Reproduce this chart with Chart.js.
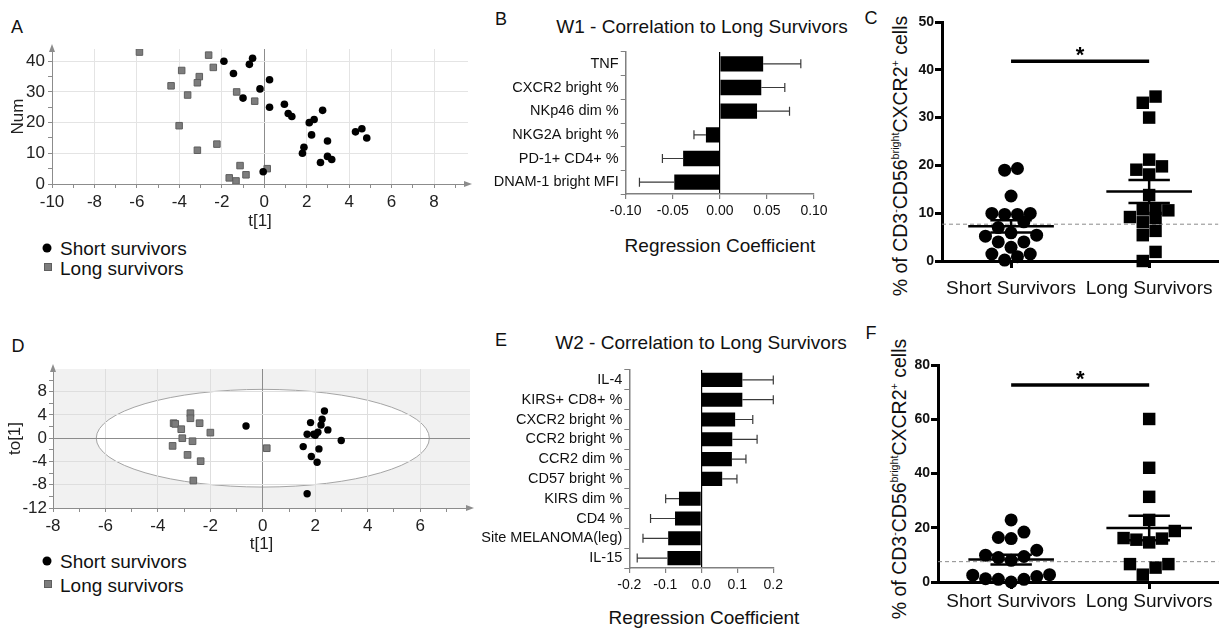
<!DOCTYPE html>
<html><head><meta charset="utf-8">
<script src="https://cdn.jsdelivr.net/npm/chart.js@4.4.1/dist/chart.umd.min.js"></script>
<style>
html,body{margin:0;padding:0;background:#fff;}
#root{position:relative;width:1227px;height:628px;overflow:hidden;font-family:'Liberation Sans',Arial,Helvetica,sans-serif;color:#111;}
canvas{position:absolute;}
.t{position:absolute;white-space:nowrap;line-height:1;transform:translate(-50%,-50%);}
.l{position:absolute;white-space:nowrap;line-height:1;transform:translateY(-50%);font-size:19px;}
.dot{position:absolute;width:9px;height:9px;border-radius:50%;background:#000;transform:translate(-50%,-50%);}
.sq{position:absolute;width:6px;height:6px;background:#7d7d7d;border:1px solid #5e5e5e;transform:translate(-50%,-50%);}
.yt{position:absolute;white-space:nowrap;line-height:1;font-size:19.5px;transform:translate(-50%,-50%) rotate(-90deg);}
.yt sup{font-size:0.55em;vertical-align:0.75em;line-height:0;}
</style></head>
<body><div id="root">
<div class="t" style="left:17px;top:27px;font-size:18px">A</div>
<div class="t" style="left:501px;top:19px;font-size:18px">B</div>
<div class="t" style="left:871px;top:18px;font-size:18px">C</div>
<div class="t" style="left:18px;top:346px;font-size:18px">D</div>
<div class="t" style="left:501px;top:340px;font-size:18px">E</div>
<div class="t" style="left:871px;top:333px;font-size:18px">F</div>
<div class="t" id="bTitle" style="left:702px;top:26px;font-size:19px"></div>
<div class="t" id="eTitle" style="left:701px;top:342px;font-size:19px"></div>
<div class="t" id="bXTitle" style="left:720px;top:245px;font-size:19px"></div>
<div class="t" id="eXTitle" style="left:704px;top:617px;font-size:19px"></div>
<div class="yt" id="cYTitle" style="left:901px;top:156px"></div>
<div class="yt" id="fYTitle" style="left:900px;top:479px"></div>
<div class="dot" style="left:47px;top:247.5px"></div><div class="l" id="legA1" style="left:60px;top:248px"></div>
<div class="sq" style="left:47.5px;top:267px"></div><div class="l" id="legA2" style="left:60px;top:268px"></div>
<div class="dot" style="left:47px;top:561px"></div><div class="l" id="legD1" style="left:60px;top:561px"></div>
<div class="sq" style="left:47.5px;top:584px"></div><div class="l" id="legD2" style="left:60px;top:585px"></div>
</div>
<script>
// ================= DATA =================
// Panel A : scores t[1] vs observation number
const aShortT   = [-1.9,-0.55,-0.7,-1.45,0.25,-0.2,-1.0,0.25,0.95,1.13,1.3,2.75,2.12,2.35,2.23,1.87,1.8,2.98,4.3,4.6,4.83,2.65,2.98,3.18,-0.05];
const aShortNum = [40,41,39,36,34,31,28,25,26,23,22,24,20,21,16,12,10,14,17,18,15,7,9,8,4];
const aLongT    = [-5.88,-2.62,-3.89,-2.4,-3.06,-3.15,-4.39,-3.61,-1.3,-0.45,-4.01,-3.15,-2.23,-1.14,-0.86,-1.65,-1.33,0.14];
const aLongNum  = [43,42,37,38,35,33,32,29,30,27,19,11,13,6,3,2,1,5];
// Panel D : scores t[1] vs to[1]
const dShortT  = [-0.64,2.35,1.82,2.26,2.22,2.48,1.69,1.94,2.10,2.00,2.99,1.54,2.14,1.85,2.07,1.69];
const dShortTo = [2.1,4.69,2.68,3.26,2.28,1.43,0.68,0.68,1.03,0.51,-0.4,-1.44,-1.84,-3.15,-4.13,-9.56];
const dLongT   = [-2.76,-2.76,-3.40,-3.34,-2.41,-3.11,-2.00,-3.07,-2.68,-3.44,-2.87,-2.37,-2.65,0.15];
const dLongTo  = [4.3,3.43,2.58,2.46,2.58,1.55,0.96,0.0,-0.52,-1.32,-2.87,-3.95,-7.28,-1.72];
const dEllipseT = 6.35, dEllipseTo = 8.4;
const legendLabels = ['Short survivors','Long survivors'];
// Panel B
const bTitle  = 'W1 - Correlation to Long Survivors';
const bLabels = ['TNF','CXCR2 bright %','NKp46 dim %','NKG2A bright %','PD-1+ CD4+ %','DNAM-1 bright MFI'];
const bCoef   = [0.046,0.044,0.0395,-0.0148,-0.039,-0.0484];
const bErr    = [0.040,0.025,0.0345,0.0127,0.022,0.037];
// Panel E
const eTitle  = 'W2 - Correlation to Long Survivors';
const eLabels = ['IL-4','KIRS+ CD8+ %','CXCR2 bright %','CCR2 bright %','CCR2 dim %','CD57 bright %','KIRS dim %','CD4 %','Site MELANOMA(leg)','IL-15'];
const eCoef   = [0.114,0.114,0.094,0.086,0.085,0.058,-0.062,-0.073,-0.092,-0.094];
const eErr    = [0.086,0.086,0.049,0.069,0.039,0.041,0.037,0.068,0.070,0.084];
const coefTitle = 'Regression Coefficient';
// Panels C and F
const groupLabels = ['Short Survivors','Long Survivors'];
const cShort = [19.35,19.0,13.6,9.96,9.75,9.75,9.96,8.2,7.0,5.9,5.2,5.4,4.0,4.0,2.86,1.46,1.46,0.9,0.2];
const cLong  = [34.4,33.1,30.0,21.2,19.8,19.1,18.1,13.8,10.9,10.6,10.8,9.0,9.2,8.1,6.3,5.4,1.9,0.0];
const cThreshold = 7.7, cSigLevel = 41.8;
const fShort = [22.9,18.4,16.0,16.4,11.7,9.9,9.0,8.0,9.4,2.7,2.0,1.0,0.0,1.0,1.2,2.5];
const fLong  = [60.1,42.1,31.4,22.9,16.2,15.6,14.6,16.0,18.8,6.6,5.3,6.6,2.7];
const fThreshold = 7.5, fSigLevel = 72.6;
const sigMark = '*';

// ================= SETUP =================
const FONT = "'Liberation Sans', Arial, Helvetica, sans-serif";
Chart.defaults.font.family = FONT;
Chart.defaults.color = '#111';
Chart.defaults.animation = false;
Chart.defaults.responsive = false;
Chart.defaults.devicePixelRatio = 1;
Chart.defaults.plugins.legend.display = false;
Chart.defaults.plugins.tooltip.enabled = false;

document.getElementById('bTitle').textContent = bTitle;
document.getElementById('eTitle').textContent = eTitle;
document.getElementById('bXTitle').textContent = coefTitle;
document.getElementById('eXTitle').textContent = coefTitle;
const yTitleHTML = '% of CD3<sup>-</sup>CD56<sup>bright</sup>CXCR2<sup>+</sup> cells';
document.getElementById('cYTitle').innerHTML = yTitleHTML;
document.getElementById('fYTitle').innerHTML = yTitleHTML;
document.getElementById('legA1').textContent = legendLabels[0];
document.getElementById('legA2').textContent = legendLabels[1];
document.getElementById('legD1').textContent = legendLabels[0];
document.getElementById('legD2').textContent = legendLabels[1];

const root = document.getElementById('root');
function mk(left, top, w, h){
  const c = document.createElement('canvas');
  c.width = w; c.height = h;
  c.style.left = left+'px'; c.style.top = top+'px';
  c.style.width = w+'px'; c.style.height = h+'px';
  root.appendChild(c); return c;
}
const fixW = w => s => { s.width = w; s.paddingTop = 0; s.paddingBottom = 0; s.paddingLeft = 0; s.paddingRight = 0; };
const fixH = h => s => { s.height = h; s.paddingTop = 0; s.paddingBottom = 0; s.paddingLeft = 0; s.paddingRight = 0; };
const zip = (xs, ys) => xs.map((x,i) => ({x, y: ys[i]}));
const NONE = 'rgba(0,0,0,0)';
const AX = '#8c8c8c';

const arrowPlugin = { id:'arrows', afterDraw(chart){
  const {ctx, chartArea:a} = chart; ctx.save(); ctx.fillStyle = AX;
  ctx.beginPath(); ctx.moveTo(a.right+4, a.bottom); ctx.lineTo(a.right-4, a.bottom-3); ctx.lineTo(a.right-4, a.bottom+3); ctx.closePath(); ctx.fill();
  ctx.beginPath(); ctx.moveTo(a.left, a.top-5); ctx.lineTo(a.left-3, a.top+3); ctx.lineTo(a.left+3, a.top+3); ctx.closePath(); ctx.fill();
  ctx.restore(); } };

// ================= PANEL A =================
new Chart(mk(0, 40, 480, 192), {
  type:'scatter',
  data:{ datasets:[
    {data: zip(aShortT, aShortNum), pointStyle:'circle', radius:3.8, backgroundColor:'#000', borderColor:'#000', borderWidth:0},
    {data: zip(aLongT, aLongNum), pointStyle:'rect', radius:4.6, backgroundColor:'#7d7d7d', borderColor:'#5e5e5e', borderWidth:1}
  ]},
  options:{
    layout:{padding:{top:9, right:12, left:0, bottom:0}},
    scales:{
      x:{type:'linear', min:-10, max:9.6, afterFit: fixH(48),
        ticks:{stepSize:1, includeBounds:false, autoSkip:false, maxRotation:0, padding:4, font:{size:17}, color:'#222',
          callback: v => (Math.round(v) % 2 === 0 ? String(Math.round(v)) : '')},
        grid:{color: c => (c.tick && c.tick.value === 0) ? '#8c8c8c' : ((c.tick && Math.round(c.tick.value) % 2 === 0) ? '#e4e4e4' : NONE), tickColor:AX, tickLength:4},
        border:{color:AX},
        title:{display:true, text:'t[1]', font:{size:17}, padding:0, color:'#222'}},
      y:{min:0, max:44, afterFit: fixW(52),
        ticks:{stepSize:5, includeBounds:false, autoSkip:false, padding:3, font:{size:17}, color:'#222',
          callback: v => (v % 10 === 0 ? String(v) : '')},
        grid:{color: c => (c.tick && c.tick.value % 10 === 0 && c.tick.value > 0) ? '#e4e4e4' : NONE, tickColor:AX, tickLength:4},
        border:{color:AX},
        title:{display:true, text:'Num', font:{size:17}, padding:{top:8, bottom:0}, color:'#222'}}
    }
  },
  plugins:[arrowPlugin]
});

// ================= PANEL D =================
const ellipsePlugin = { id:'ellipse', beforeDraw(chart){
  const {ctx, chartArea:a, scales:{x, y}} = chart;
  ctx.save();
  ctx.fillStyle = '#f1f1f1'; ctx.fillRect(a.left, a.top, a.right-a.left, a.bottom-a.top);
  const cx = x.getPixelForValue(0), cy = y.getPixelForValue(0);
  const rx = x.getPixelForValue(dEllipseT) - cx, ry = cy - y.getPixelForValue(dEllipseTo);
  ctx.beginPath(); ctx.ellipse(cx, cy, rx, ry, 0, 0, Math.PI*2);
  ctx.fillStyle = '#fff'; ctx.fill(); ctx.strokeStyle = '#a5a5a5'; ctx.lineWidth = 1; ctx.stroke();
  ctx.restore(); } };
new Chart(mk(0, 355, 480, 200), {
  type:'scatter',
  data:{ datasets:[
    {data: zip(dShortT, dShortTo), pointStyle:'circle', radius:3.7, backgroundColor:'#000', borderColor:'#000', borderWidth:0},
    {data: zip(dLongT, dLongTo), pointStyle:'rect', radius:4.7, backgroundColor:'#7d7d7d', borderColor:'#5e5e5e', borderWidth:1}
  ]},
  options:{
    layout:{padding:{top:14, right:10, left:0, bottom:0}},
    scales:{
      x:{type:'linear', min:-8, max:7.9, afterFit: fixH(47),
        ticks:{stepSize:1, includeBounds:false, autoSkip:false, maxRotation:0, padding:4, font:{size:17}, color:'#222',
          callback: v => (Math.round(v) % 2 === 0 ? String(Math.round(v)) : '')},
        grid:{color: c => (c.tick && c.tick.value === 0) ? '#8c8c8c' : ((c.tick && Math.round(c.tick.value) % 2 === 0) ? '#dedede' : NONE), tickColor:AX, tickLength:4},
        border:{color:AX},
        title:{display:true, text:'t[1]', font:{size:17}, padding:0, color:'#222'}},
      y:{min:-12, max:11.9, afterFit: fixW(53),
        ticks:{stepSize:2, includeBounds:false, autoSkip:false, padding:2, font:{size:17}, color:'#222',
          callback: v => (Math.round(v) % 4 === 0 ? String(Math.round(v)) : '')},
        grid:{color: c => (c.tick && c.tick.value === 0) ? '#8c8c8c' : ((c.tick && Math.round(c.tick.value) % 4 === 0) ? '#dedede' : NONE), tickColor:AX, tickLength:4},
        border:{color:AX},
        title:{display:true, text:'to[1]', font:{size:17}, padding:{top:5, bottom:0}, color:'#222'}}
    }
  },
  plugins:[ellipsePlugin, arrowPlugin]
});

// ================= PANELS B & E =================
function errPlugin(errs){
  return { id:'errbars', afterDatasetsDraw(chart){
    const {ctx, scales:{x}} = chart; const meta = chart.getDatasetMeta(0); const vals = chart.data.datasets[0].data;
    ctx.save(); ctx.strokeStyle = '#3a3a3a'; ctx.lineWidth = 1.2;
    meta.data.forEach((bar, i) => {
      const v = vals[i]; const e = v >= 0 ? v + errs[i] : v - errs[i];
      const x0 = x.getPixelForValue(v), x1 = x.getPixelForValue(e);
      ctx.beginPath(); ctx.moveTo(x0, bar.y); ctx.lineTo(x1, bar.y);
      ctx.moveTo(x1, bar.y-4.5); ctx.lineTo(x1, bar.y+4.5); ctx.stroke();
    });
    ctx.restore(); } };
}
function coefChart(canvas, labels, coef, errs, lim, step, dec, pad, yW, xH, barPct){
  return new Chart(canvas, {
    type:'bar',
    data:{labels, datasets:[{data:coef, backgroundColor:'#000', borderWidth:0, barPercentage:barPct, categoryPercentage:1}]},
    options:{
      indexAxis:'y',
      layout:{padding:pad},
      scales:{
        x:{type:'linear', min:-lim, max:lim, afterFit: fixH(xH),
          ticks:{stepSize:step, padding:4, font:{size:14}, color:'#111', maxRotation:0, callback: v => Number(v).toFixed(dec)},
          grid:{color: c => (c.tick && Math.abs(c.tick.value) < 1e-9) ? '#000' : NONE, tickColor:'#808080', tickLength:5, lineWidth:1.2},
          border:{color:'#808080', width:1.5}},
        y:{afterFit: fixW(yW),
          ticks:{autoSkip:false, padding:2, font:{size:14.5}, color:'#111'},
          grid:{drawOnChartArea:false, tickColor:'#808080', tickLength:5},
          border:{color:'#808080', width:1.5}}
      }
    },
    plugins:[errPlugin(errs)]
  });
}
coefChart(mk(470, 5, 360, 251), bLabels, bCoef, bErr, 0.1, 0.05, 2, {top:47, right:16, left:0, bottom:0}, 155.7, 62, 0.65);
coefChart(mk(470, 360, 320, 268), eLabels, eCoef, eErr, 0.2, 0.1, 1, {top:10, right:16.7, left:0, bottom:0}, 159.3, 60, 0.71);

// ================= PANELS C & F =================
const mean = a => a.reduce((s,v)=>s+v,0)/a.length;
const sem = a => { const m = mean(a); return Math.sqrt(a.reduce((s,v)=>s+(v-m)*(v-m),0)/(a.length-1))/Math.sqrt(a.length); };
function dotPlugin(groups, thr, sigY){
  return { id:'dotOverlay',
    beforeDatasetsDraw(chart){
      const {ctx, chartArea:a, scales:{y}} = chart; const py = y.getPixelForValue(thr);
      ctx.save(); ctx.strokeStyle = '#8a8a8a'; ctx.lineWidth = 1; ctx.setLineDash([4,3]);
      ctx.beginPath(); ctx.moveTo(a.left, py); ctx.lineTo(a.right, py); ctx.stroke(); ctx.restore();
    },
    afterDatasetsDraw(chart){
      const {ctx, scales:{x, y}} = chart;
      const line = (x0,y0,x1,y1) => { ctx.beginPath(); ctx.moveTo(x.getPixelForValue(x0), y.getPixelForValue(y0)); ctx.lineTo(x.getPixelForValue(x1), y.getPixelForValue(y1)); ctx.stroke(); };
      ctx.save(); ctx.strokeStyle = '#000'; ctx.lineWidth = 2.5; ctx.lineCap = 'butt';
      groups.forEach((vals, gi) => {
        const xc = gi + 1, m = mean(vals), se = sem(vals);
        line(xc-0.31, m, xc+0.31, m);
        line(xc, m-se, xc, m+se);
        line(xc-0.15, m+se, xc+0.15, m+se);
        line(xc-0.15, m-se, xc+0.15, m-se);
      });
      ctx.lineWidth = 3.5; line(1, sigY, 2, sigY);
      ctx.fillStyle = '#000'; ctx.font = 'bold 22px ' + FONT; ctx.textAlign = 'center'; ctx.textBaseline = 'alphabetic';
      ctx.fillText(sigMark, x.getPixelForValue(1.5), y.getPixelForValue(sigY) + 1);
      ctx.restore();
    } };
}
function swarm(chart, dsIndex, values, center, diamPx){
  const xs = chart.scales.x, ys = chart.scales.y;
  const pxX = xs.getPixelForValue(1) - xs.getPixelForValue(0);
  const pxY = ys.getPixelForValue(0) - ys.getPixelForValue(1);
  const bin = diamPx * 0.96 / pxY;
  const idx = values.map((v,i)=>i).sort((a,b)=>values[a]-values[b]);
  const out = new Array(values.length);
  let i = 0;
  while (i < idx.length){
    const start = values[idx[i]]; const row = [];
    while (i < idx.length && values[idx[i]] - start <= bin){ row.push(idx[i]); i++; }
    const n = row.length, slots = [];
    if (n % 2){ slots.push(0); for (let k=1; slots.length<n; k++) slots.push(-k, k); }
    else { for (let k=0; slots.length<n; k++) slots.push(-(k+0.5), k+0.5); }
    row.forEach((j, r) => { out[j] = {x: center + slots[r]*diamPx/pxX, y: values[j]}; });
  }
  chart.data.datasets[dsIndex].data = out;
}
function dotChart(canvas, sh, lo, yMax, yStep, xMin, thr, sig, pad, yW, xH, labPad){
  const ch = new Chart(canvas, {
    type:'scatter',
    data:{datasets:[
      {data: sh.map(v=>({x:1, y:v})), pointStyle:'circle', radius:6.5, backgroundColor:'#000', borderWidth:0},
      {data: lo.map(v=>({x:2, y:v})), pointStyle:'rect', radius:8.8, backgroundColor:'#000', borderWidth:0}
    ]},
    options:{
      layout:{padding:pad},
      clip:false,
      scales:{
        x:{type:'linear', min:xMin, max:2.5, afterFit: fixH(xH),
          afterBuildTicks: s => { s.ticks = [{value:1},{value:2}]; },
          ticks:{padding:labPad, font:{size:19}, color:'#111', maxRotation:0, autoSkip:false, callback: v => groupLabels[Math.round(v)-1]},
          grid:{drawOnChartArea:false, tickColor:'#000', tickWidth:3, tickLength:7},
          border:{color:'#000', width:3}},
        y:{min:0, max:yMax, afterFit: fixW(yW),
          ticks:{stepSize:yStep, padding:1, font:{size:14, weight:'bold'}, color:'#111'},
          grid:{drawOnChartArea:false, tickColor:'#000', tickWidth:3, tickLength:7},
          border:{color:'#000', width:3}}
      }
    },
    plugins:[dotPlugin([sh, lo], thr, sig)]
  });
  swarm(ch, 0, sh, 1, 12.8);
  swarm(ch, 1, lo, 2, 12.8);
  ch.update('none');
  return ch;
}
dotChart(mk(905, 0, 322, 310), cShort, cLong, 50, 10, 0.5, cThreshold, cSigLevel, {top:22, right:4, left:0, bottom:0}, 37, 49, 9);
dotChart(mk(900, 330, 327, 298), fShort, fLong, 80, 20, 0.47, fThreshold, fSigLevel, {top:35, right:4, left:0, bottom:0}, 38, 46, 1);
</script>
</body></html>
